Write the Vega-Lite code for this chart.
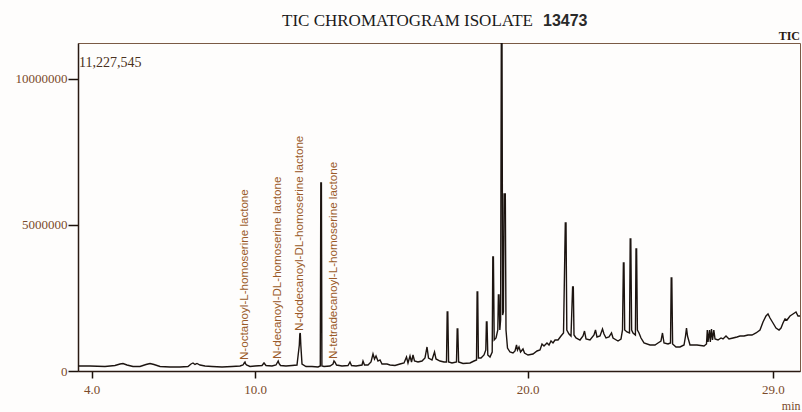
{
  "$schema": "https://vega.github.io/schema/vega-lite/v6.json",
  "width": 722,
  "height": 328,
  "autosize": {"type": "none"},
  "padding": {"left": 78, "top": 43, "right": 2, "bottom": 41},
  "background": "#fefdfc",
  "config": {"view": {"stroke": "#7a5a45", "strokeWidth": 1}},
  "datasets": {
    "trace": [
      {"time": 3.500, "intensity": 171000}, {"time": 3.940, "intensity": 171000}, {"time": 4.491, "intensity": 154000},
      {"time": 4.858, "intensity": 188000}, {"time": 5.042, "intensity": 240000}, {"time": 5.152, "intensity": 257000},
      {"time": 5.298, "intensity": 205000}, {"time": 5.519, "intensity": 154000}, {"time": 5.776, "intensity": 154000},
      {"time": 5.996, "intensity": 223000}, {"time": 6.143, "intensity": 257000}, {"time": 6.290, "intensity": 223000},
      {"time": 6.510, "intensity": 154000}, {"time": 6.877, "intensity": 137000}, {"time": 7.244, "intensity": 137000},
      {"time": 7.537, "intensity": 154000}, {"time": 7.648, "intensity": 240000}, {"time": 7.721, "intensity": 274000},
      {"time": 7.794, "intensity": 223000}, {"time": 7.868, "intensity": 257000}, {"time": 7.978, "intensity": 205000},
      {"time": 8.161, "intensity": 171000}, {"time": 8.418, "intensity": 154000}, {"time": 8.785, "intensity": 137000},
      {"time": 9.152, "intensity": 154000}, {"time": 9.446, "intensity": 171000}, {"time": 9.556, "intensity": 205000},
      {"time": 9.611, "intensity": 290000}, {"time": 9.630, "intensity": 308000}, {"time": 9.648, "intensity": 250000},
      {"time": 9.685, "intensity": 205000}, {"time": 9.813, "intensity": 154000}, {"time": 9.997, "intensity": 171000},
      {"time": 10.254, "intensity": 188000}, {"time": 10.327, "intensity": 274000}, {"time": 10.400, "intensity": 188000},
      {"time": 10.621, "intensity": 171000}, {"time": 10.767, "intensity": 205000}, {"time": 10.822, "intensity": 300000},
      {"time": 10.848, "intensity": 342000}, {"time": 10.878, "intensity": 260000}, {"time": 10.933, "intensity": 188000},
      {"time": 11.134, "intensity": 171000}, {"time": 11.355, "intensity": 188000}, {"time": 11.538, "intensity": 205000},
      {"time": 11.623, "intensity": 890000}, {"time": 11.641, "intensity": 1267000}, {"time": 11.659, "intensity": 1301000},
      {"time": 11.678, "intensity": 890000}, {"time": 11.722, "intensity": 240000}, {"time": 11.869, "intensity": 154000},
      {"time": 12.089, "intensity": 154000}, {"time": 12.309, "intensity": 137000}, {"time": 12.393, "intensity": 171000},
      {"time": 12.412, "intensity": 6436000}, {"time": 12.434, "intensity": 6436000}, {"time": 12.452, "intensity": 171000},
      {"time": 12.529, "intensity": 154000}, {"time": 12.749, "intensity": 171000}, {"time": 12.860, "intensity": 240000},
      {"time": 12.896, "intensity": 342000}, {"time": 12.933, "intensity": 300000}, {"time": 12.988, "intensity": 205000},
      {"time": 13.190, "intensity": 171000}, {"time": 13.410, "intensity": 188000}, {"time": 13.483, "intensity": 308000},
      {"time": 13.539, "intensity": 188000}, {"time": 13.704, "intensity": 171000}, {"time": 13.924, "intensity": 205000},
      {"time": 13.961, "intensity": 342000}, {"time": 14.016, "intensity": 205000}, {"time": 14.144, "intensity": 205000},
      {"time": 14.254, "intensity": 308000}, {"time": 14.328, "intensity": 582000}, {"time": 14.383, "intensity": 411000},
      {"time": 14.438, "intensity": 514000}, {"time": 14.511, "intensity": 342000}, {"time": 14.585, "intensity": 377000},
      {"time": 14.658, "intensity": 240000}, {"time": 14.842, "intensity": 240000}, {"time": 14.952, "intensity": 205000},
      {"time": 15.135, "intensity": 188000}, {"time": 15.319, "intensity": 240000}, {"time": 15.466, "intensity": 274000},
      {"time": 15.557, "intensity": 479000}, {"time": 15.612, "intensity": 274000}, {"time": 15.686, "intensity": 514000},
      {"time": 15.741, "intensity": 308000}, {"time": 15.796, "intensity": 548000}, {"time": 15.851, "intensity": 342000},
      {"time": 15.979, "intensity": 308000}, {"time": 16.126, "intensity": 342000}, {"time": 16.236, "intensity": 445000},
      {"time": 16.310, "intensity": 822000}, {"time": 16.365, "intensity": 445000}, {"time": 16.493, "intensity": 377000},
      {"time": 16.585, "intensity": 650000}, {"time": 16.640, "intensity": 411000}, {"time": 16.787, "intensity": 342000},
      {"time": 16.934, "intensity": 308000}, {"time": 17.025, "intensity": 308000}, {"time": 17.051, "intensity": 2020000},
      {"time": 17.073, "intensity": 2020000}, {"time": 17.102, "intensity": 308000}, {"time": 17.227, "intensity": 274000},
      {"time": 17.392, "intensity": 308000}, {"time": 17.418, "intensity": 1438000}, {"time": 17.440, "intensity": 1438000},
      {"time": 17.470, "intensity": 308000}, {"time": 17.631, "intensity": 257000}, {"time": 17.888, "intensity": 274000},
      {"time": 18.035, "intensity": 342000}, {"time": 18.127, "intensity": 377000}, {"time": 18.149, "intensity": 2705000},
      {"time": 18.171, "intensity": 2705000}, {"time": 18.196, "intensity": 445000}, {"time": 18.292, "intensity": 445000},
      {"time": 18.402, "intensity": 548000}, {"time": 18.468, "intensity": 719000}, {"time": 18.490, "intensity": 1678000},
      {"time": 18.512, "intensity": 1678000}, {"time": 18.541, "intensity": 548000}, {"time": 18.622, "intensity": 479000},
      {"time": 18.703, "intensity": 650000}, {"time": 18.725, "intensity": 3903000}, {"time": 18.747, "intensity": 3903000},
      {"time": 18.776, "intensity": 1061000}, {"time": 18.843, "intensity": 1130000}, {"time": 18.908, "intensity": 1404000},
      {"time": 18.930, "intensity": 2602000}, {"time": 18.952, "intensity": 2602000}, {"time": 18.982, "intensity": 1404000},
      {"time": 19.011, "intensity": 1746000}, {"time": 19.037, "intensity": 11227545}, {"time": 19.063, "intensity": 11227545},
      {"time": 19.085, "intensity": 1917000}, {"time": 19.114, "intensity": 2020000}, {"time": 19.140, "intensity": 6060000},
      {"time": 19.184, "intensity": 6060000}, {"time": 19.209, "intensity": 1404000}, {"time": 19.264, "intensity": 787000},
      {"time": 19.356, "intensity": 650000}, {"time": 19.466, "intensity": 616000}, {"time": 19.540, "intensity": 685000},
      {"time": 19.595, "intensity": 890000}, {"time": 19.631, "intensity": 719000}, {"time": 19.686, "intensity": 822000},
      {"time": 19.742, "intensity": 650000}, {"time": 19.833, "intensity": 753000}, {"time": 19.888, "intensity": 616000},
      {"time": 20.017, "intensity": 548000}, {"time": 20.200, "intensity": 582000}, {"time": 20.347, "intensity": 685000},
      {"time": 20.457, "intensity": 719000}, {"time": 20.531, "intensity": 924000}, {"time": 20.604, "intensity": 856000},
      {"time": 20.714, "intensity": 959000}, {"time": 20.788, "intensity": 890000}, {"time": 20.861, "intensity": 1027000},
      {"time": 20.934, "intensity": 959000}, {"time": 21.008, "intensity": 1061000}, {"time": 21.118, "intensity": 1061000},
      {"time": 21.228, "intensity": 1198000}, {"time": 21.320, "intensity": 1301000}, {"time": 21.386, "intensity": 5067000},
      {"time": 21.412, "intensity": 5067000}, {"time": 21.441, "intensity": 1404000}, {"time": 21.522, "intensity": 1267000},
      {"time": 21.595, "intensity": 1198000}, {"time": 21.654, "intensity": 2876000}, {"time": 21.680, "intensity": 2876000},
      {"time": 21.705, "intensity": 1232000}, {"time": 21.779, "intensity": 1130000}, {"time": 21.925, "intensity": 1061000},
      {"time": 22.036, "intensity": 1198000}, {"time": 22.091, "intensity": 1369000}, {"time": 22.146, "intensity": 1096000},
      {"time": 22.292, "intensity": 1061000}, {"time": 22.439, "intensity": 1232000}, {"time": 22.494, "intensity": 1404000},
      {"time": 22.549, "intensity": 1164000}, {"time": 22.659, "intensity": 1198000}, {"time": 22.751, "intensity": 1438000},
      {"time": 22.806, "intensity": 1267000}, {"time": 22.880, "intensity": 1130000}, {"time": 22.990, "intensity": 1164000},
      {"time": 23.082, "intensity": 1301000}, {"time": 23.137, "intensity": 1130000}, {"time": 23.320, "intensity": 1027000},
      {"time": 23.430, "intensity": 1096000}, {"time": 23.485, "intensity": 1404000}, {"time": 23.518, "intensity": 3697000},
      {"time": 23.540, "intensity": 3697000}, {"time": 23.566, "intensity": 1404000}, {"time": 23.650, "intensity": 1335000},
      {"time": 23.742, "intensity": 1301000}, {"time": 23.768, "intensity": 4519000}, {"time": 23.790, "intensity": 4519000},
      {"time": 23.820, "intensity": 1404000}, {"time": 23.871, "intensity": 1301000}, {"time": 23.959, "intensity": 1232000},
      {"time": 23.981, "intensity": 4177000}, {"time": 24.003, "intensity": 4177000}, {"time": 24.032, "intensity": 1404000},
      {"time": 24.091, "intensity": 1301000}, {"time": 24.164, "intensity": 1130000}, {"time": 24.274, "intensity": 959000},
      {"time": 24.495, "intensity": 890000}, {"time": 24.678, "intensity": 890000}, {"time": 24.788, "intensity": 959000},
      {"time": 24.898, "intensity": 1027000}, {"time": 24.953, "intensity": 1301000}, {"time": 25.009, "intensity": 959000},
      {"time": 25.155, "intensity": 924000}, {"time": 25.247, "intensity": 959000}, {"time": 25.273, "intensity": 3184000},
      {"time": 25.295, "intensity": 3184000}, {"time": 25.324, "intensity": 924000}, {"time": 25.449, "intensity": 822000},
      {"time": 25.596, "intensity": 822000}, {"time": 25.743, "intensity": 890000}, {"time": 25.798, "intensity": 1198000},
      {"time": 25.834, "intensity": 1472000}, {"time": 25.871, "intensity": 1198000}, {"time": 25.963, "intensity": 890000},
      {"time": 26.220, "intensity": 890000}, {"time": 26.477, "intensity": 856000}, {"time": 26.568, "intensity": 924000},
      {"time": 26.598, "intensity": 1404000}, {"time": 26.624, "intensity": 993000}, {"time": 26.679, "intensity": 1404000},
      {"time": 26.708, "intensity": 993000}, {"time": 26.752, "intensity": 1438000}, {"time": 26.789, "intensity": 1061000},
      {"time": 26.837, "intensity": 1404000}, {"time": 26.881, "intensity": 1096000}, {"time": 26.991, "intensity": 1061000},
      {"time": 27.101, "intensity": 1130000}, {"time": 27.174, "intensity": 1096000}, {"time": 27.284, "intensity": 1198000},
      {"time": 27.394, "intensity": 1096000}, {"time": 27.541, "intensity": 1130000}, {"time": 27.688, "intensity": 1164000},
      {"time": 27.798, "intensity": 1198000}, {"time": 27.945, "intensity": 1198000}, {"time": 28.092, "intensity": 1232000},
      {"time": 28.238, "intensity": 1232000}, {"time": 28.385, "intensity": 1301000}, {"time": 28.532, "intensity": 1404000},
      {"time": 28.642, "intensity": 1678000}, {"time": 28.752, "intensity": 1883000}, {"time": 28.826, "intensity": 1951000},
      {"time": 28.899, "intensity": 1814000}, {"time": 29.009, "intensity": 1643000}, {"time": 29.119, "intensity": 1472000},
      {"time": 29.230, "intensity": 1404000}, {"time": 29.303, "intensity": 1472000}, {"time": 29.376, "intensity": 1643000},
      {"time": 29.450, "intensity": 1780000}, {"time": 29.523, "intensity": 1746000}, {"time": 29.633, "intensity": 1883000},
      {"time": 29.743, "intensity": 1951000}, {"time": 29.853, "intensity": 2020000}, {"time": 29.927, "intensity": 1883000},
      {"time": 30.000, "intensity": 1883000}
    ],
    "peaks": [
      {"compound": "N-octanoyl-L-homoserine lactone", "rt": 9.63, "height": 308000},
      {"compound": "N-decanoyl-DL-homoserine lactone", "rt": 10.85, "height": 342000},
      {"compound": "N-dodecanoyl-DL-homoserine lactone", "rt": 11.66, "height": 1301000},
      {"compound": "N-tetradecanoyl-L-homoserine lactone", "rt": 12.90, "height": 342000}
    ]
  },
  "layer": [
    {
      "data": {"name": "trace"},
      "mark": {"type": "line", "color": "#1c1410", "strokeWidth": 1.4, "clip": true},
      "encoding": {
        "x": {
          "field": "time", "type": "quantitative",
          "scale": {"domain": [3.5, 30], "nice": false, "zero": false},
          "axis": {
            "values": [4, 10, 20, 29], "format": ".1f",
            "grid": false, "tickSize": 7, "tickColor": "#1a100a", "tickWidth": 1.5,
            "domainColor": "#2a1a12", "domainWidth": 1.5,
            "labelFont": "Liberation Serif", "labelFontSize": 13, "labelColor": "#7a4a2a",
            "labelPadding": 5, "labelOverlap": false,
            "title": "min", "titleFont": "Liberation Serif", "titleFontSize": 12, "titleFontWeight": "normal",
            "titleColor": "#7a4a2a", "titleAnchor": "end", "titleAlign": "right", "titleBaseline": "alphabetic",
            "titleX": 722, "titleY": 38
          }
        },
        "y": {
          "field": "intensity", "type": "quantitative",
          "scale": {"domain": [0, 11227545], "nice": false, "zero": true},
          "axis": {
            "values": [0, 5000000, 10000000], "format": "d",
            "grid": false, "tickSize": 10, "tickColor": "#1a100a", "tickWidth": 1.5,
            "domainColor": "#2a1a12", "domainWidth": 1.5,
            "labelFont": "Liberation Serif", "labelFontSize": 13, "labelColor": "#7a4a2a",
            "labelPadding": 1, "labelOverlap": false,
            "title": null
          }
        }
      }
    },
    {
      "data": {"name": "peaks"},
      "mark": {"type": "text", "angle": 270, "align": "left", "baseline": "middle", "dx": 2, "font": "Liberation Sans", "fontSize": 11.6, "color": "#9a5a28"},
      "encoding": {
        "x": {"field": "rt", "type": "quantitative"},
        "y": {"field": "height", "type": "quantitative"},
        "text": {"field": "compound"}
      }
    },
    {
      "data": {"values": [{}]},
      "mark": {"type": "text", "align": "left", "baseline": "alphabetic", "font": "Liberation Serif", "fontSize": 17, "color": "#1a1a1a", "text": "TIC CHROMATOGRAM ISOLATE"},
      "encoding": {"x": {"datum": 10.988}, "y": {"datum": 11811000}}
    },
    {
      "data": {"values": [{}]},
      "mark": {"type": "text", "align": "left", "baseline": "alphabetic", "font": "Liberation Sans", "fontSize": 16, "fontWeight": "bold", "color": "#2a2a2a", "text": "13473"},
      "encoding": {"x": {"datum": 20.567}, "y": {"datum": 11811000}}
    },
    {
      "data": {"values": [{}]},
      "mark": {"type": "text", "align": "left", "baseline": "top", "dx": 1, "dy": 13, "font": "Liberation Serif", "fontSize": 14, "color": "#4a3020", "text": "11,227,545"},
      "encoding": {"x": {"datum": 3.5}, "y": {"datum": 11227545}}
    },
    {
      "data": {"values": [{}]},
      "mark": {"type": "text", "align": "right", "baseline": "alphabetic", "dy": -3, "font": "Liberation Serif", "fontSize": 12, "fontWeight": "bold", "color": "#2a1a12", "text": "TIC"},
      "encoding": {"x": {"datum": 30}, "y": {"datum": 11227545}}
    }
  ]
}
